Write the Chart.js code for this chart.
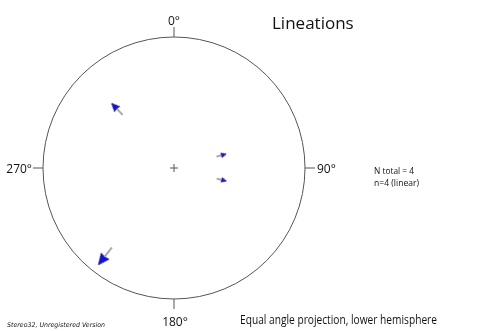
<!DOCTYPE html>
<html>
<head>
<meta charset="utf-8">
<script src="https://cdn.jsdelivr.net/npm/chart.js@4/dist/chart.umd.min.js"></script>
<style>
  body { margin: 0; background: #fff; }
  canvas { display: block; }
</style>
</head>
<body>
<canvas id="net" width="491" height="331"></canvas>
<script>
// lineation measurements (degrees)
const labels = ["L1", "L2", "L3", "L4"];
const trends = [316, 75, 104, 218];
const plunges = [26, 49, 49, 9];

const dirLabels = ["0°", "90°", "180°", "270°"];
const title = "Lineations";
const infoLines = ["N total = 4", "n=4 (linear)"];
const footer = "Equal angle projection, lower hemisphere";
const credit = "Stereo32, Unregistered Version";

// equal angle (stereographic) projection, lower hemisphere, unit primitive
function project(trend, plunge) {
  const r = Math.tan((90 - plunge) / 2 * Math.PI / 180);
  const a = trend * Math.PI / 180;
  return { x: r * Math.sin(a), y: r * Math.cos(a), r: r };
}

const points = trends.map((t, i) => project(t, plunges[i]));

// arrow glyph pointing north, scaled with its distance from the centre
const arrowCache = {};
function arrowGlyph(len) {
  len = Math.max(9, Math.round(len));
  if (arrowCache[len]) return arrowCache[len];
  const w = Math.ceil(len * 0.6) + 4;
  const c = document.createElement("canvas");
  c.width = w;
  c.height = len + 4;
  const g = c.getContext("2d");
  const cx = w / 2, top = 2, bottom = len + 2;
  const headLen = len * 0.5, headW = len * 0.45;
  g.strokeStyle = "#555";
  g.lineWidth = 1;
  g.beginPath();
  g.moveTo(cx, bottom);
  g.lineTo(cx, top + headLen);
  g.stroke();
  g.fillStyle = "#1010e8";
  g.strokeStyle = "#10106a";
  g.lineWidth = 0.7;
  g.beginPath();
  g.moveTo(cx, top);
  g.lineTo(cx + headW / 2, top + headLen);
  g.lineTo(cx, top + headLen * 0.9);
  g.lineTo(cx - headW / 2, top + headLen);
  g.closePath();
  g.fill();
  g.stroke();
  arrowCache[len] = c;
  return c;
}

// draw text squeezed to a given width
function fitText(ctx, text, x, y, width) {
  const w = ctx.measureText(text).width;
  ctx.save();
  ctx.translate(x, y);
  ctx.scale(width / w, 1);
  ctx.fillText(text, 0, 0);
  ctx.restore();
}

const netPlugin = {
  id: "net",
  afterDatasetsDraw(chart) {
    const ctx = chart.ctx;
    const xs = chart.scales.x, ys = chart.scales.y;
    const cx = xs.getPixelForValue(0), cy = ys.getPixelForValue(0);
    const R = xs.getPixelForValue(1) - cx;
    ctx.save();
    ctx.strokeStyle = "#555";
    ctx.lineWidth = 1;
    ctx.beginPath();
    ctx.arc(cx, cy, R, 0, Math.PI * 2);
    ctx.stroke();
    // cardinal ticks
    ctx.beginPath();
    ctx.moveTo(cx, cy - R); ctx.lineTo(cx, cy - R - 10);
    ctx.moveTo(cx + R, cy); ctx.lineTo(cx + R + 10, cy);
    ctx.moveTo(cx, cy + R); ctx.lineTo(cx, cy + R + 10);
    ctx.moveTo(cx - R, cy); ctx.lineTo(cx - R - 10, cy);
    // centre cross
    ctx.moveTo(cx - 4, cy); ctx.lineTo(cx + 4, cy);
    ctx.moveTo(cx, cy - 4); ctx.lineTo(cx, cy + 4);
    ctx.stroke();

    ctx.fillStyle = "#111";
    ctx.font = "12px 'Open Sans'";
    ctx.textBaseline = "alphabetic";
    ctx.textAlign = "center";
    ctx.fillText(dirLabels[0], cx, cy - R - 12);
    ctx.fillText(dirLabels[2], cx + 1, cy + R + 27);
    ctx.textAlign = "right";
    ctx.fillText(dirLabels[3], cx - R - 11, cy + 5);
    ctx.textAlign = "left";
    ctx.fillText(dirLabels[1], cx + R + 12, cy + 5);

    ctx.font = "17px 'Open Sans'";
    ctx.fillText(title, 272, 29);

    ctx.font = "9px 'Open Sans'";
    fitText(ctx, infoLines[0], 374, 174, 40);
    fitText(ctx, infoLines[1], 374, 186, 45);

    ctx.font = "12px 'Open Sans'";
    fitText(ctx, footer, 240, 324, 197);

    ctx.font = "italic 6.5px 'DejaVu Sans'";
    fitText(ctx, credit, 7, 327, 98);
    ctx.restore();
  }
};

new Chart(document.getElementById("net"), {
  type: "scatter",
  data: {
    labels: labels,
    datasets: [{
      data: points.map(p => ({ x: p.x, y: p.y })),
      pointStyle: ctx => arrowGlyph(points[ctx.dataIndex].r * 131 * 0.2),
      rotation: ctx => trends[ctx.dataIndex],
      pointRadius: 5
    }]
  },
  options: {
    responsive: false,
    animation: false,
    layout: { padding: { left: 43, right: 186, top: 37, bottom: 32 } },
    scales: {
      x: { display: false, min: -1, max: 1 },
      y: { display: false, min: -1, max: 1 }
    },
    plugins: { legend: { display: false }, tooltip: { enabled: false } }
  },
  plugins: [netPlugin]
});
</script>
</body>
</html>
